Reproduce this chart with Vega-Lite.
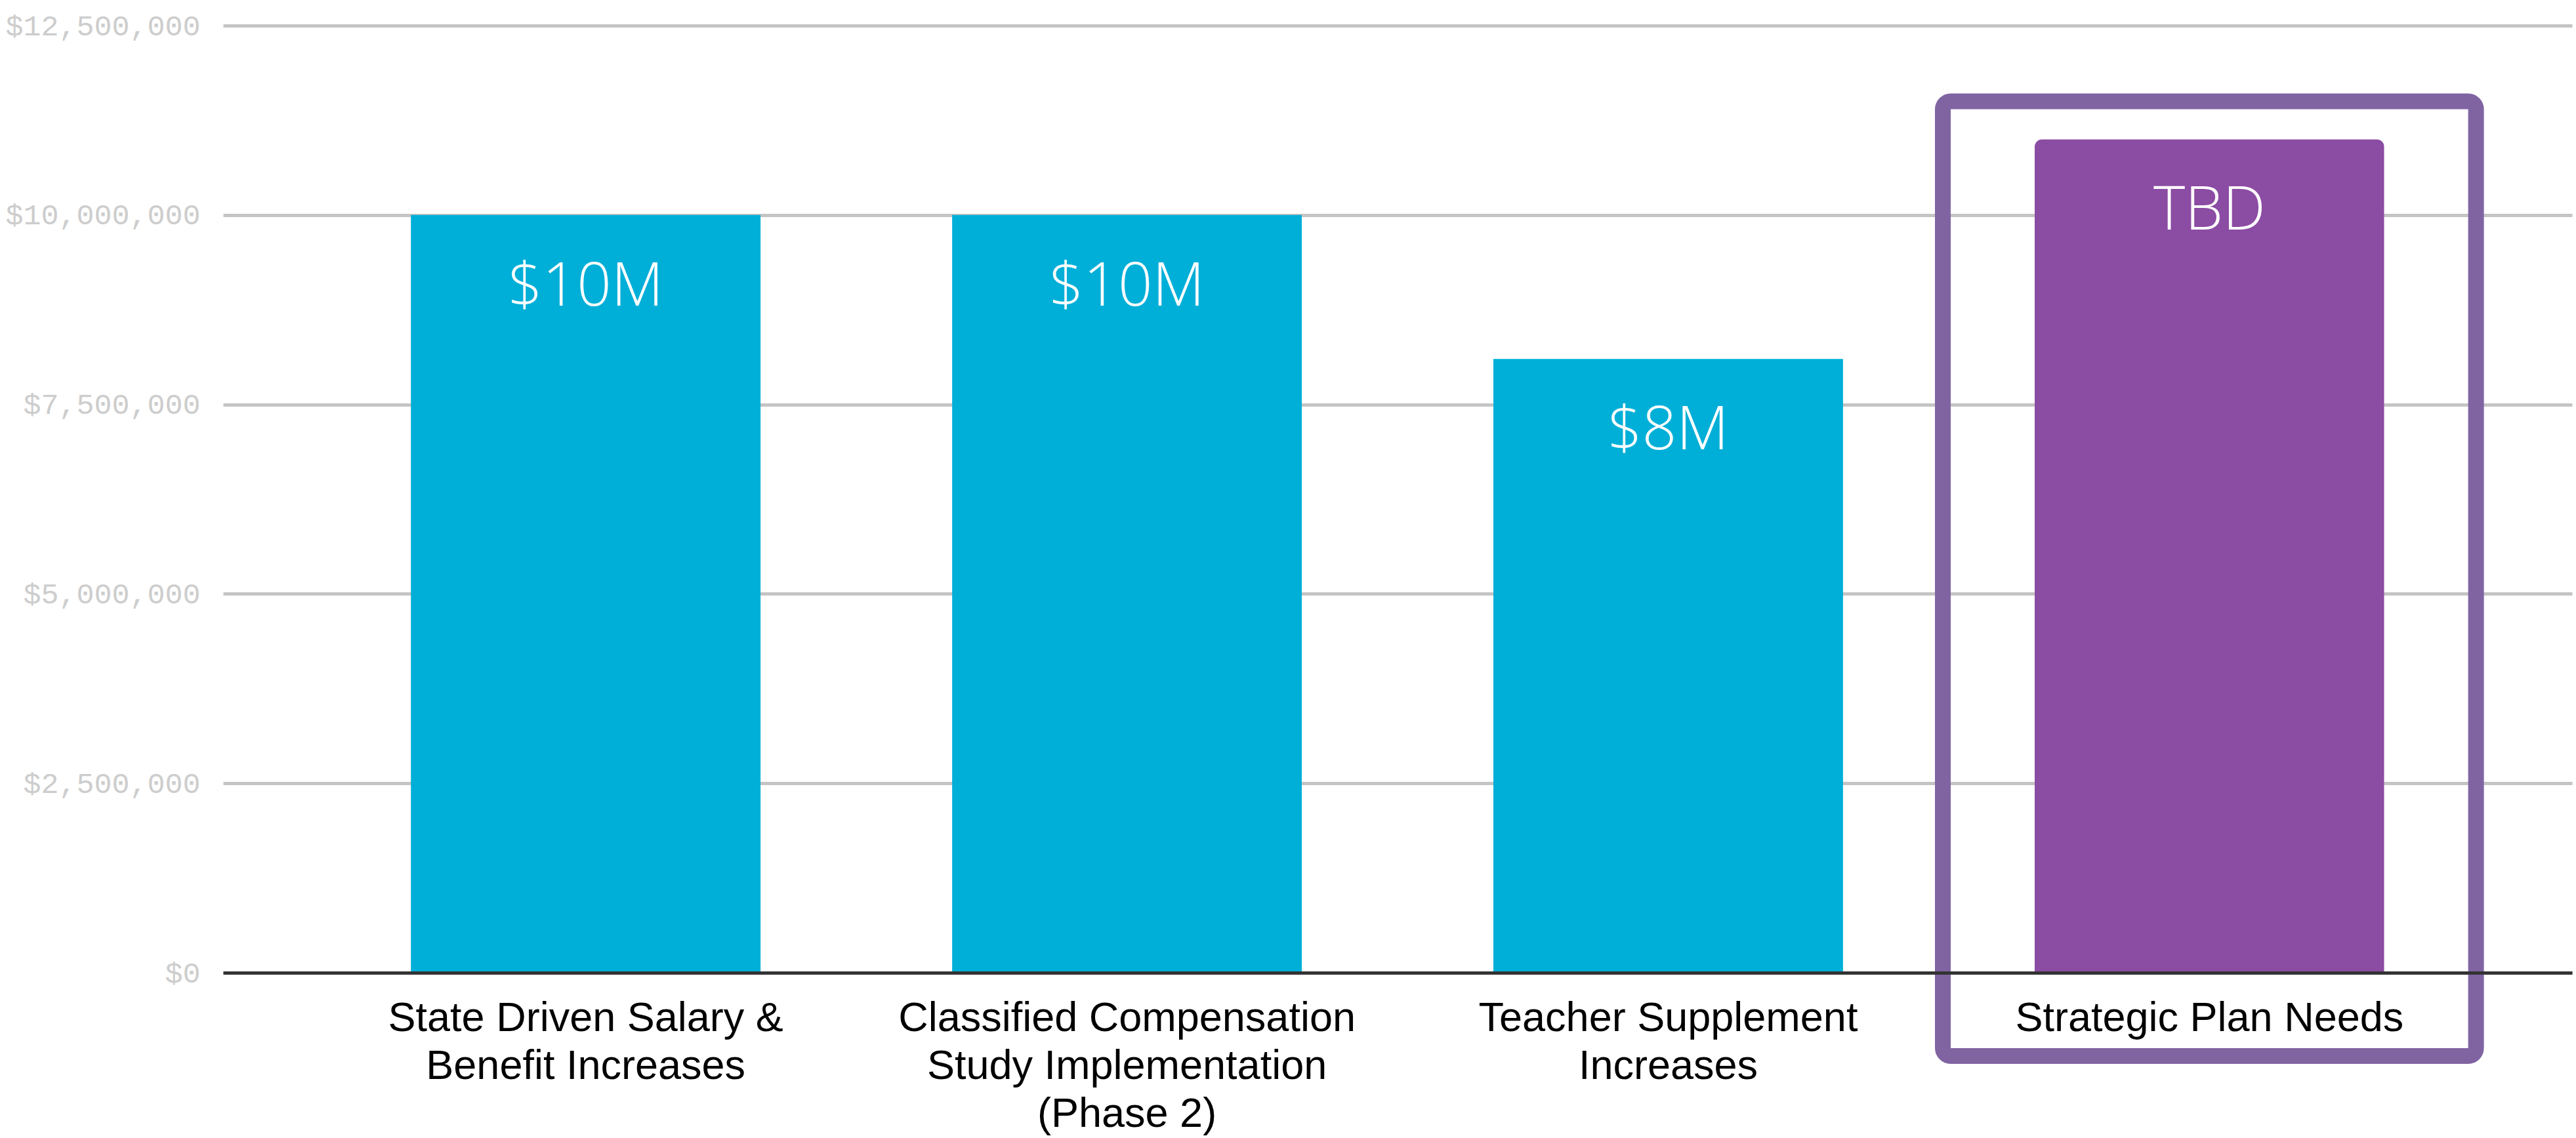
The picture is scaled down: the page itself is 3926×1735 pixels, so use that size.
{
  "$schema": "https://vega.github.io/schema/vega-lite/v6.json",
  "width": 3580,
  "height": 1444,
  "autosize": {"type": "none"},
  "padding": {"left": 340, "top": 39, "right": 6, "bottom": 252},
  "background": "#ffffff",
  "config": {"view": {"stroke": null}},
  "data": {
    "values": [
      {"category": "State Driven Salary & Benefit Increases", "amount": 10000000, "label": "$10M", "group": "current"},
      {"category": "Classified Compensation Study Implementation (Phase 2)", "amount": 10000000, "label": "$10M", "group": "current"},
      {"category": "Teacher Supplement Increases", "amount": 8100000, "label": "$8M", "group": "current"},
      {"category": "Strategic Plan Needs", "amount": 11000000, "label": "TBD", "group": "future"}
    ]
  },
  "encoding": {
    "x": {
      "field": "category",
      "type": "nominal",
      "sort": null,
      "scale": {"paddingInner": 0.354, "paddingOuter": 0.347},
      "axis": {
        "title": null,
        "labelAngle": 0,
        "labelExpr": "datum.value == 'State Driven Salary & Benefit Increases' ? ['State Driven Salary &', 'Benefit Increases'] : datum.value == 'Classified Compensation Study Implementation (Phase 2)' ? ['Classified Compensation', 'Study Implementation', '(Phase 2)'] : datum.value == 'Teacher Supplement Increases' ? ['Teacher Supplement', 'Increases'] : datum.value",
        "labelFont": "Liberation Sans",
        "labelFontSize": 63,
        "labelLineHeight": 73,
        "labelColor": "#000000",
        "labelPadding": 38,
        "labelBaseline": "top",
        "labelLimit": 0,
        "ticks": false,
        "domainColor": "#333333",
        "domainWidth": 5,
        "zindex": 1
      }
    }
  },
  "layer": [
    {
      "transform": [{"filter": "datum.group == 'current'"}],
      "mark": {"type": "bar", "color": "#00AFD8"},
      "encoding": {
        "y": {
          "field": "amount",
          "type": "quantitative",
          "scale": {"domain": [0, 12500000], "nice": false},
          "axis": {
            "title": null,
            "values": [0, 2500000, 5000000, 7500000, 10000000, 12500000],
            "format": "$,.0f",
            "labelFont": "Liberation Mono",
            "labelFontSize": 45,
            "labelColor": "#cdcdcd",
            "labelPadding": 35,
            "labelLimit": 0,
            "ticks": false,
            "domain": false,
            "grid": true,
            "gridColor": "#c4c4c4",
            "gridWidth": 5
          }
        }
      }
    },
    {
      "transform": [{"filter": "datum.group == 'future'"}],
      "mark": {"type": "bar", "color": "#8B4CA3", "cornerRadiusTopLeft": 12, "cornerRadiusTopRight": 12},
      "encoding": {
        "y": {"field": "amount", "type": "quantitative"}
      }
    },
    {
      "mark": {"type": "text", "baseline": "alphabetic", "align": "center", "dy": 138, "font": "Open Sans", "fontWeight": 300, "fontSize": 92, "color": "#ffffff"},
      "encoding": {
        "y": {"field": "amount", "type": "quantitative"},
        "text": {"field": "label"}
      }
    },
    {
      "transform": [{"filter": "datum.group == 'future'"}],
      "mark": {"type": "bar", "fill": "transparent", "stroke": "#8064A2", "strokeWidth": 24, "cornerRadius": 12, "width": {"band": 1.525}},
      "encoding": {
        "y": {"datum": 11500000, "type": "quantitative"},
        "y2": {"datum": -1100000}
      }
    }
  ]
}
